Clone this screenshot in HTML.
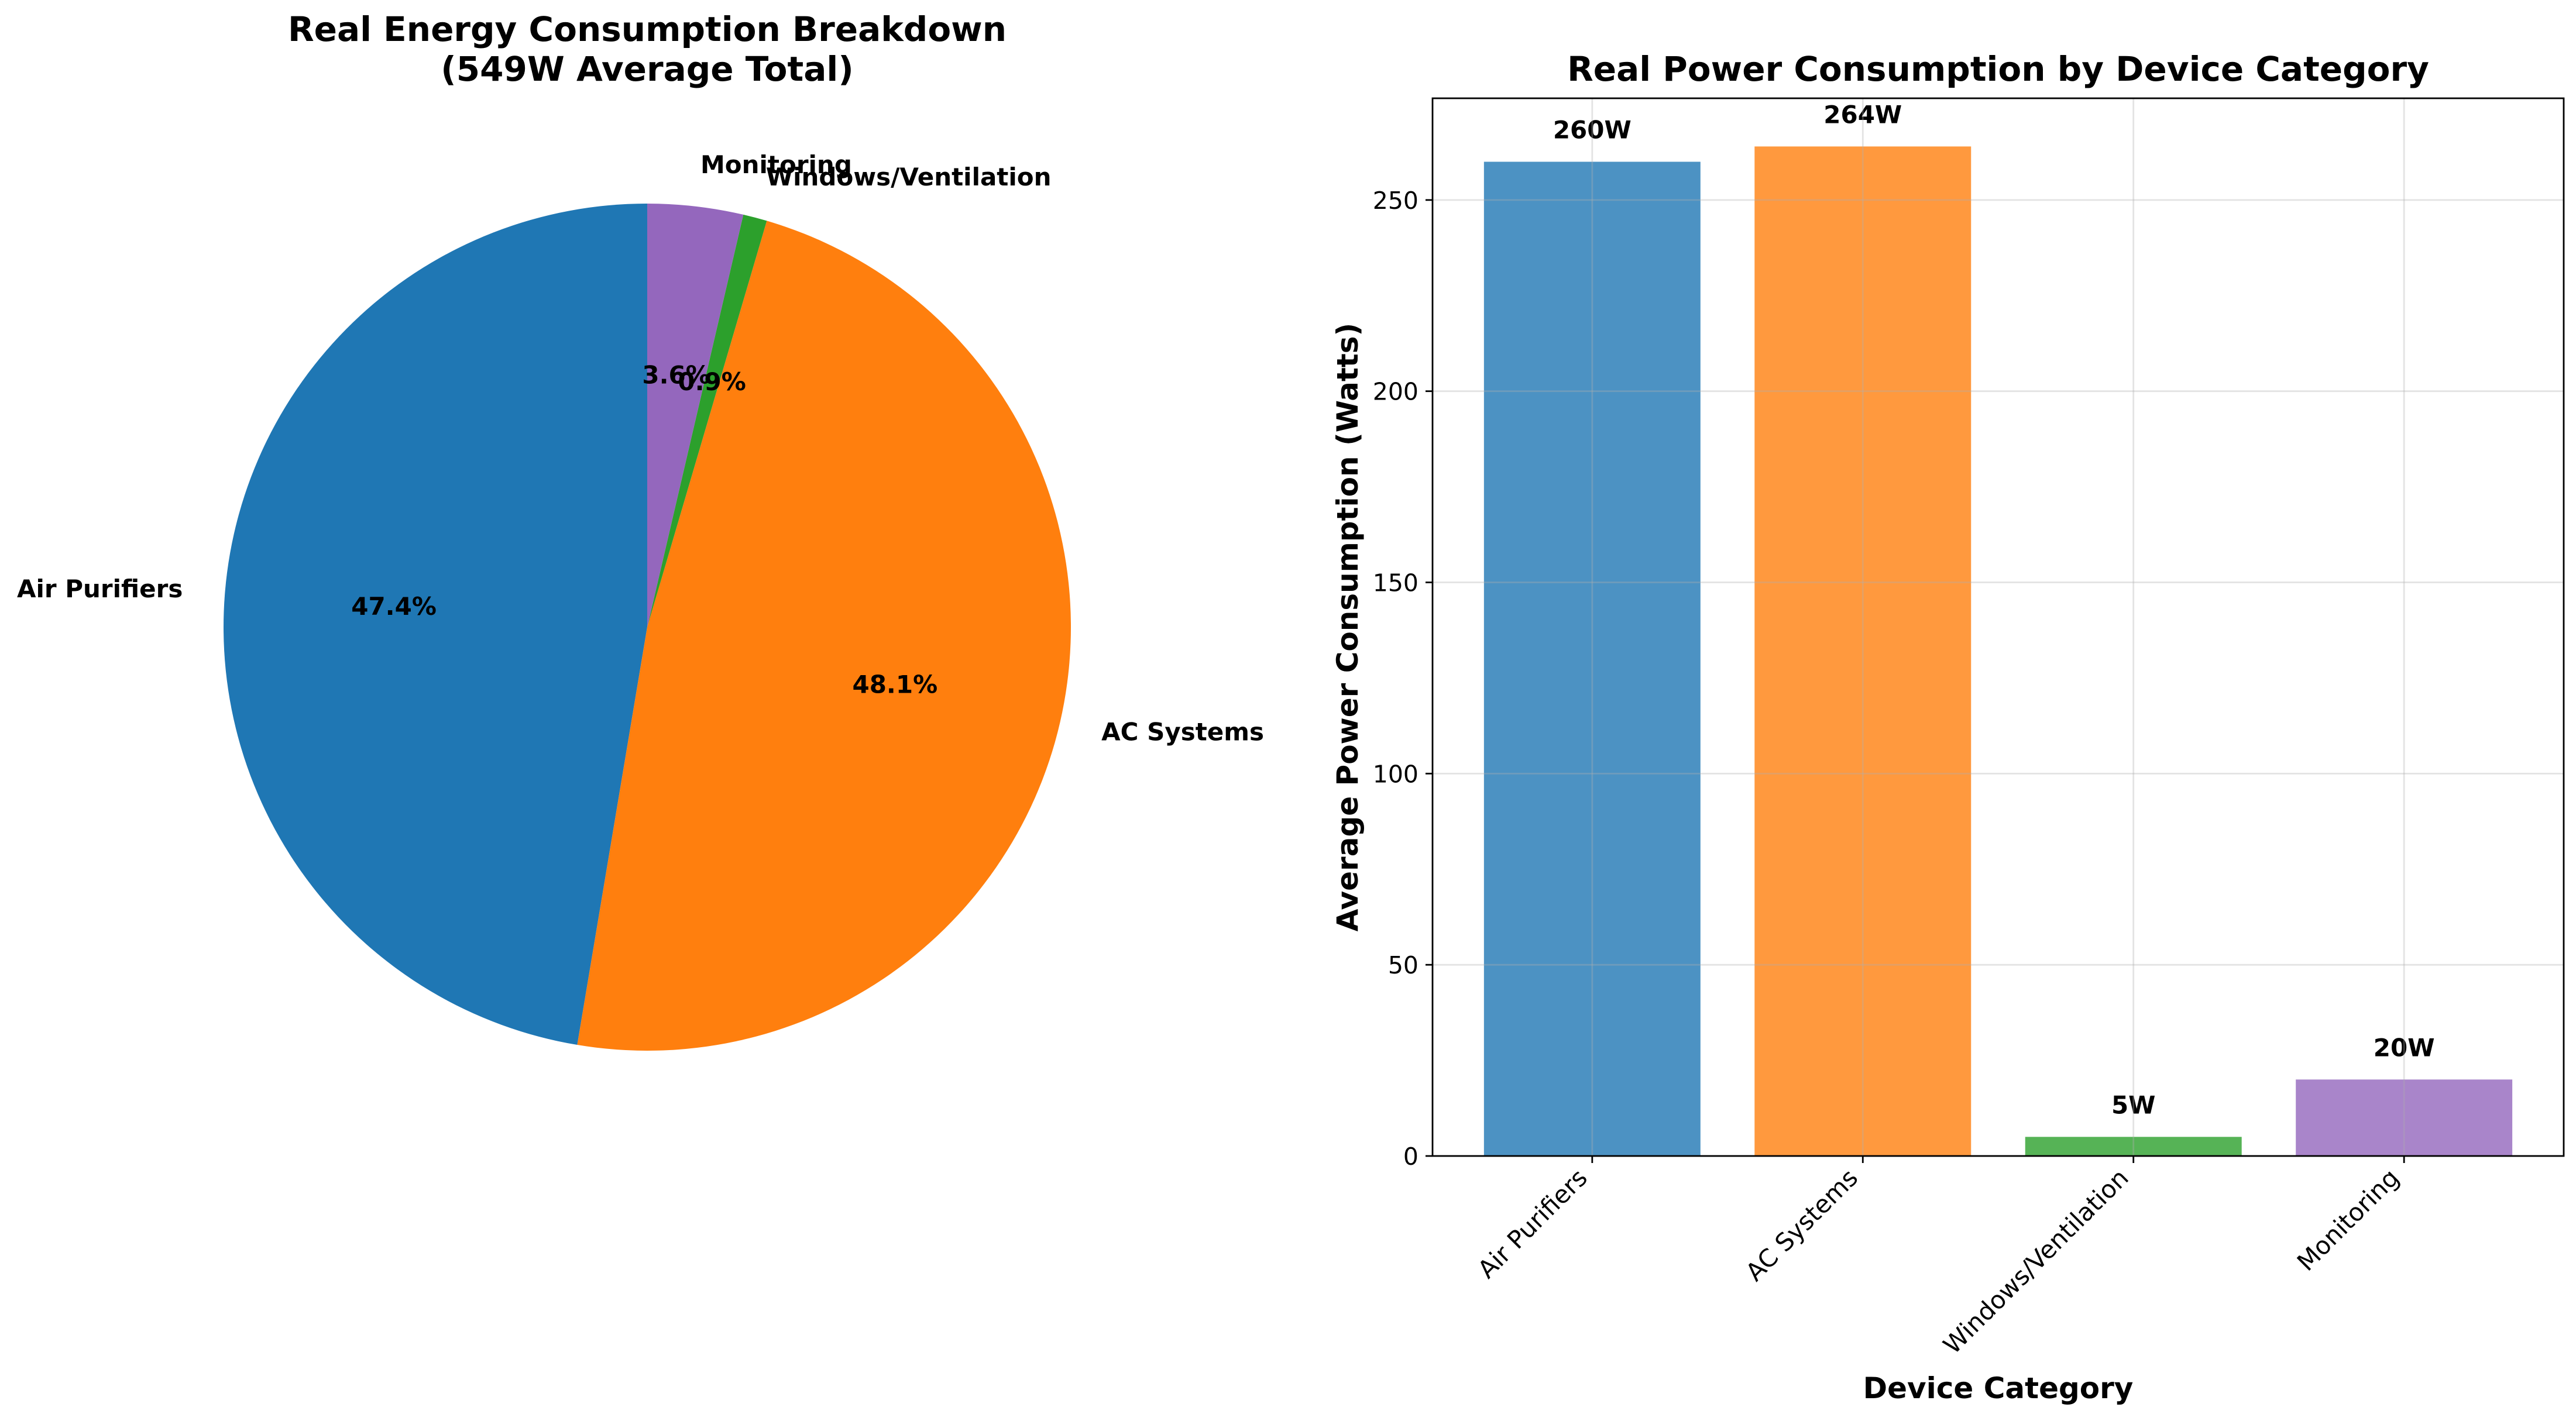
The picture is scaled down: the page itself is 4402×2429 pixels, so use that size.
<!DOCTYPE html>
<html><head><meta charset="utf-8"><style>
html,body{margin:0;padding:0;background:#fff;}
svg{display:block;font-family:"DejaVu Sans","Liberation Sans",sans-serif;}
</style></head><body>
<svg id="fig" width="4402" height="2429" viewBox="0 0 4402 2429" xmlns="http://www.w3.org/2000/svg">
<rect width="4402" height="2429" fill="#fff"/>
<g id="pie"></g>
<g id="bar"></g>
</svg>
<script>
const categories = ["Air Purifiers","AC Systems","Windows/Ventilation","Monitoring"];
const powerValues = [260, 264, 5, 20];
const valueLabels = ["260W","264W","5W","20W"];
const yTicks = [0, 50, 100, 150, 200, 250];
const pieColors = ["#1f77b4","#ff7f0e","#2ca02c","#9467bd"];

const NS = "http://www.w3.org/2000/svg";
function mk(parent, tag, attrs, text){
  const e = document.createElementNS(NS, tag);
  for (const k in attrs) e.setAttribute(k, attrs[k]);
  if (text !== undefined) e.textContent = text;
  parent.appendChild(e);
  return e;
}
const pie = document.getElementById('pie');
const bar = document.getElementById('bar');

// ---- Pie ----
const cx = 1106, cy = 1072, R = 724;
const total = powerValues.reduce((a,b)=>a+b,0);
let t = mk(pie,'text',{x:cx,y:70,'text-anchor':'middle','font-size':58,'font-weight':'bold'},'Real Energy Consumption Breakdown');


t = mk(pie,'text',{x:cx,y:138,'text-anchor':'middle','font-size':58,'font-weight':'bold'},'(' + total + 'W Average Total)');


let ang = 90;
const labelsG = [];
powerValues.forEach((v,i)=>{
  const sweep = v/total*360;
  const a0 = ang*Math.PI/180, a1 = (ang+sweep)*Math.PI/180;
  const x0 = cx + R*Math.cos(a0), y0 = cy - R*Math.sin(a0);
  const x1 = cx + R*Math.cos(a1), y1 = cy - R*Math.sin(a1);
  const large = sweep > 180 ? 1 : 0;
  const p = mk(pie,'path',{d:`M${cx},${cy} L${x0},${y0} A${R},${R} 0 ${large} 0 ${x1},${y1} Z`,fill:pieColors[i]});
  
  
  const mid = (ang + sweep/2)*Math.PI/180;
  const lx = cx + 1.1*R*Math.cos(mid), ly = cy - 1.1*R*Math.sin(mid);
  labelsG.push({i, lx, ly, anchor: Math.cos(mid) >= 0 ? 'start' : 'end',
    px: cx + 0.6*R*Math.cos(mid), py: cy - 0.6*R*Math.sin(mid), pct: (v/total*100).toFixed(1)+'%'});
  ang += sweep;
});
labelsG.forEach(o=>{
  let l = mk(pie,'text',{x:o.lx,y:o.ly+15,'text-anchor':o.anchor,'font-size':42,'font-weight':'bold'},categories[o.i]);
  
  
  let q = mk(pie,'text',{x:o.px,y:o.py+15,'text-anchor':'middle','font-size':42,'font-weight':'bold'},o.pct);
  
  
});

// ---- Bar ----
const L = 2448, Rt = 4381, T = 168, B = 1976;
const yMax = 276.6;
const xMin = -0.59, xMax = 3.59;
const X = v => L + (v - xMin)/(xMax - xMin)*(Rt - L);
const Y = v => B - v/yMax*(B - T);
const bw = 0.8;
powerValues.forEach((v,i)=>{
  const r = mk(bar,'rect',{x:X(i-bw/2),y:Y(v),width:X(i+bw/2)-X(i-bw/2),height:B-Y(v),fill:pieColors[i],'fill-opacity':0.8});
  
  
  const vl = mk(bar,'text',{x:X(i),y:Y(v)-40,'text-anchor':'middle','font-size':42,'font-weight':'bold'},valueLabels[i]);
  
  
});
yTicks.forEach(v=>{
  const g = mk(bar,'line',{x1:L,x2:Rt,y1:Y(v),y2:Y(v),stroke:'#b0b0b0','stroke-opacity':0.35,'stroke-width':2.8});
  
  
  const tk = mk(bar,'line',{x1:L-12,x2:L,y1:Y(v),y2:Y(v),stroke:'#000','stroke-width':2.8});
  
  
  const tl = mk(bar,'text',{x:L-24,y:Y(v)+15,'text-anchor':'end','font-size':41},String(v));
  
  
});
categories.forEach((c,i)=>{
  const g = mk(bar,'line',{x1:X(i),x2:X(i),y1:T,y2:B,stroke:'#b0b0b0','stroke-opacity':0.35,'stroke-width':2.8});
  
  
  const tk = mk(bar,'line',{x1:X(i),x2:X(i),y1:B,y2:B+12,stroke:'#000','stroke-width':2.8});
  
  
  const tl = mk(bar,'text',{x:0,y:0,'text-anchor':'end','font-size':42,transform:`translate(${X(i)-6},${B+40}) rotate(-45)`},c);
  
  
});
const frame = mk(bar,'rect',{x:L,y:T,width:Rt-L,height:B-T,fill:'none',stroke:'#000','stroke-width':2.8});


t = mk(bar,'text',{x:(L+Rt)/2,y:138,'text-anchor':'middle','font-size':58,'font-weight':'bold'},'Real Power Consumption by Device Category');


t = mk(bar,'text',{x:(L+Rt)/2,y:2390,'text-anchor':'middle','font-size':50,'font-weight':'bold'},'Device Category');


t = mk(bar,'text',{x:0,y:0,'text-anchor':'middle','font-size':50,'font-weight':'bold',transform:`translate(2320,${(T+B)/2}) rotate(-90)`},'Average Power Consumption (Watts)');


</script>
</body></html>
